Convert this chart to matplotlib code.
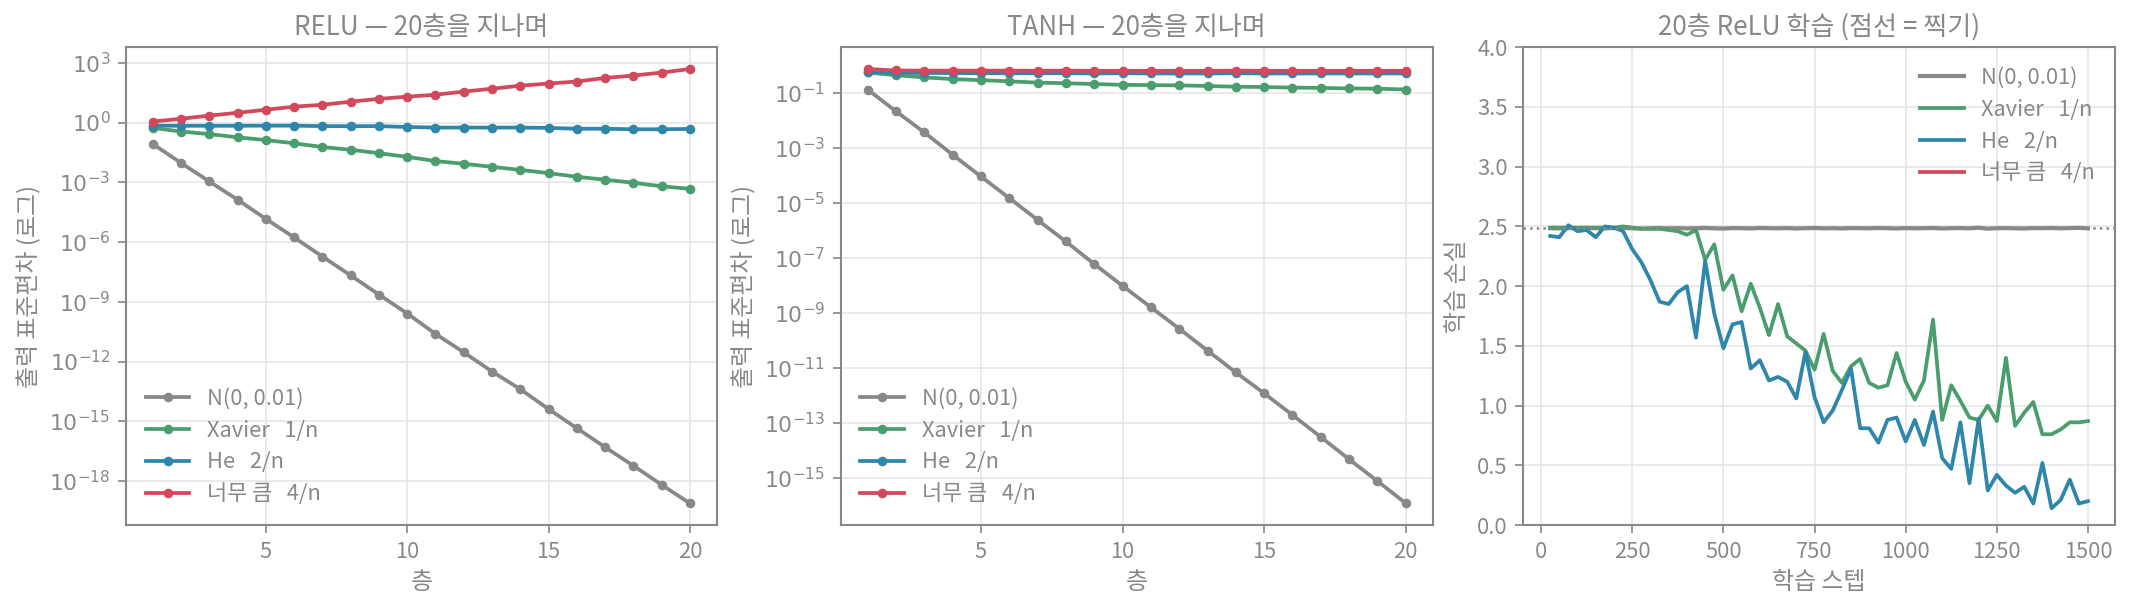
import numpy as np
import matplotlib
matplotlib.use("Agg")
import matplotlib.pyplot as plt
from matplotlib.ticker import NullLocator, FuncFormatter

plt.rcParams['font.family'] = ['Noto Sans CJK KR', 'DejaVu Sans']
plt.rcParams['axes.unicode_minus'] = False
plt.rcParams['mathtext.fontset'] = 'dejavusans'

TXT = '#888888'
C_SMALL = '#888888'
C_XAV = '#4a9e6e'
C_HE = '#2e86ab'
C_BIG = '#d1495b'

labels = ['N(0, 0.01)', 'Xavier   1/n', 'He   2/n', '너무 큼   4/n']

layers = list(range(1, 21))

# ReLU: 층별 출력 표준편차
relu_small = [8.3e-2, 9.3e-3, 1.1e-3, 1.32e-4, 1.45e-5, 1.7e-6, 1.86e-7, 2.1e-8, 2.3e-9, 2.57e-10,
              2.45e-11, 2.9e-12, 3.16e-13, 4.1e-14, 4.1e-15, 4.5e-16, 5.0e-17, 5.9e-18, 6.5e-19, 7.6e-20]
relu_xavier = [0.54, 0.355, 0.263, 0.182, 0.132, 0.091, 0.059, 0.043, 0.029, 0.019,
               0.0117, 0.0085, 0.006, 0.0042, 0.0029, 0.0019, 0.00135, 0.00095, 0.00063, 0.00047]
relu_he = [0.70, 0.69, 0.69, 0.69, 0.70, 0.70, 0.66, 0.66, 0.66, 0.60,
           0.56, 0.56, 0.56, 0.56, 0.54, 0.49, 0.49, 0.46, 0.46, 0.48]
relu_big = [1.12, 1.55, 2.24, 3.1, 4.4, 6.3, 7.8, 11.2, 15.5, 20.0,
            25.0, 36.0, 50.0, 71.0, 91.0, 115.0, 174.0, 229.0, 324.0, 490.0]

# tanh: 층별 출력 표준편차
tanh_small = [0.138, 0.0224, 3.8e-3, 5.9e-4, 9.5e-5, 1.55e-5, 2.5e-6, 4.1e-7, 6.2e-8, 1.0e-8,
              1.66e-9, 2.75e-10, 4.4e-11, 7.1e-12, 1.23e-12, 2.0e-13, 3.16e-14, 4.9e-15, 7.9e-16, 1.23e-16]
tanh_xavier = [0.575, 0.457, 0.38, 0.331, 0.302, 0.275, 0.245, 0.234, 0.219, 0.204,
               0.200, 0.195, 0.186, 0.174, 0.170, 0.162, 0.158, 0.151, 0.148, 0.138]
tanh_he = [0.59, 0.56, 0.55, 0.55, 0.54, 0.54, 0.54, 0.54, 0.53, 0.54,
           0.53, 0.53, 0.53, 0.54, 0.53, 0.53, 0.53, 0.53, 0.53, 0.53]
tanh_big = [0.77, 0.68, 0.67, 0.67, 0.67, 0.67, 0.66, 0.67, 0.66, 0.66,
            0.66, 0.66, 0.66, 0.67, 0.66, 0.66, 0.66, 0.66, 0.66, 0.66]

# 20층 ReLU 학습 손실 (25 스텝마다)
steps = list(range(25, 1501, 25))
loss_small = [2.485, 2.483, 2.486, 2.484, 2.487, 2.485, 2.483, 2.486, 2.488, 2.484,
              2.482, 2.485, 2.487, 2.484, 2.486, 2.483, 2.485, 2.487, 2.484, 2.482,
              2.486, 2.485, 2.483, 2.487, 2.485, 2.484, 2.486, 2.483, 2.485, 2.487,
              2.484, 2.485, 2.483, 2.486, 2.485, 2.484, 2.487, 2.485, 2.483, 2.486,
              2.484, 2.485, 2.487, 2.483, 2.485, 2.486, 2.484, 2.489, 2.481, 2.485,
              2.486, 2.484, 2.483, 2.486, 2.485, 2.487, 2.484, 2.486, 2.488, 2.484]
loss_xavier = [2.49, 2.49, 2.49, 2.49, 2.49, 2.49, 2.49, 2.49, 2.50, 2.49,
               2.48, 2.48, 2.48, 2.47, 2.46, 2.43, 2.47, 2.22, 2.35, 1.97,
               2.09, 1.79, 2.02, 1.82, 1.59, 1.85, 1.58, 1.52, 1.46, 1.30,
               1.60, 1.29, 1.19, 1.33, 1.39, 1.19, 1.15, 1.17, 1.44, 1.20,
               1.05, 1.21, 1.72, 0.88, 1.17, 1.04, 0.90, 0.88, 1.00, 0.87,
               1.40, 0.83, 0.94, 1.03, 0.76, 0.76, 0.80, 0.86, 0.86, 0.87]
loss_he = [2.42, 2.41, 2.51, 2.46, 2.47, 2.41, 2.50, 2.49, 2.46, 2.31,
           2.20, 2.05, 1.87, 1.85, 1.95, 2.00, 1.57, 2.21, 1.77, 1.48,
           1.68, 1.70, 1.31, 1.38, 1.21, 1.24, 1.20, 1.06, 1.45, 1.07,
           0.86, 0.96, 1.13, 1.31, 0.81, 0.81, 0.69, 0.88, 0.90, 0.70,
           0.88, 0.67, 0.95, 0.56, 0.47, 0.86, 0.35, 0.89, 0.29, 0.42,
           0.33, 0.27, 0.32, 0.18, 0.52, 0.14, 0.21, 0.38, 0.18, 0.20]
loss_big = []  # 발산해서 값 없음
chance = np.log(12)

fig = plt.figure(figsize=(14.2, 610 / 150), dpi=150)
ax1 = fig.add_axes([126 / 2130, 0.1393, 590.7 / 2130, 0.7832])
ax2 = fig.add_axes([840.7 / 2130, 0.1393, 592 / 2130, 0.7832])
ax3 = fig.add_axes([1523.3 / 2130, 0.1393, 591.6 / 2130, 0.7832])


def style(ax):
    for s in ax.spines.values():
        s.set_color(TXT)
        s.set_linewidth(1.0)
    ax.tick_params(colors=TXT, labelsize=10.5, width=0.8, length=4)
    ax.grid(True, color='#e6e6e6', linewidth=0.8)
    ax.set_axisbelow(True)


def pow10(v, pos):
    return '$10^{%d}$' % int(round(np.log10(v)))


colors = [C_SMALL, C_XAV, C_HE, C_BIG]

for ax, data, name in [(ax1, [relu_small, relu_xavier, relu_he, relu_big], 'RELU'),
                       (ax2, [tanh_small, tanh_xavier, tanh_he, tanh_big], 'TANH')]:
    for ys, c, lab in zip(data, colors, labels):
        ax.plot(layers, ys, color=c, lw=1.8, marker='o', ms=3.6, label=lab)
    ax.set_yscale('log')
    ax.yaxis.set_minor_locator(NullLocator())
    ax.yaxis.set_major_formatter(FuncFormatter(pow10))
    ax.set_xticks([5, 10, 15, 20])
    ax.set_title(name + ' — 20층을 지나며', color=TXT, fontsize=12.5)
    ax.set_xlabel('층', color=TXT, fontsize=11.5)
    ax.set_ylabel('출력 표준편차 (로그)', color=TXT, fontsize=11.5)
    style(ax)
    leg = ax.legend(loc='lower left', frameon=False, fontsize=10.5, labelspacing=0.45)
    for t in leg.get_texts():
        t.set_color(TXT)

ax3.plot(steps, loss_small, color=C_SMALL, lw=2.0, label=labels[0])
ax3.plot(steps, loss_xavier, color=C_XAV, lw=1.8, label=labels[1])
ax3.plot(steps, loss_he, color=C_HE, lw=1.8, label=labels[2])
ax3.plot(loss_big, loss_big, color=C_BIG, lw=1.8, label=labels[3])
ax3.axhline(chance, color=TXT, ls=':', lw=1.2)
ax3.set_ylim(0, 4)
ax3.set_xticks([0, 250, 500, 750, 1000, 1250, 1500])
ax3.set_title('20층 ReLU 학습 (점선 = 찍기)', color=TXT, fontsize=12.5)
ax3.set_xlabel('학습 스텝', color=TXT, fontsize=11.5)
ax3.set_ylabel('학습 손실', color=TXT, fontsize=11.5)
style(ax3)
leg = ax3.legend(loc='upper right', frameon=False, fontsize=10.5, labelspacing=0.45)
for t in leg.get_texts():
    t.set_color(TXT)

fig.savefig('out.png', dpi=150)
